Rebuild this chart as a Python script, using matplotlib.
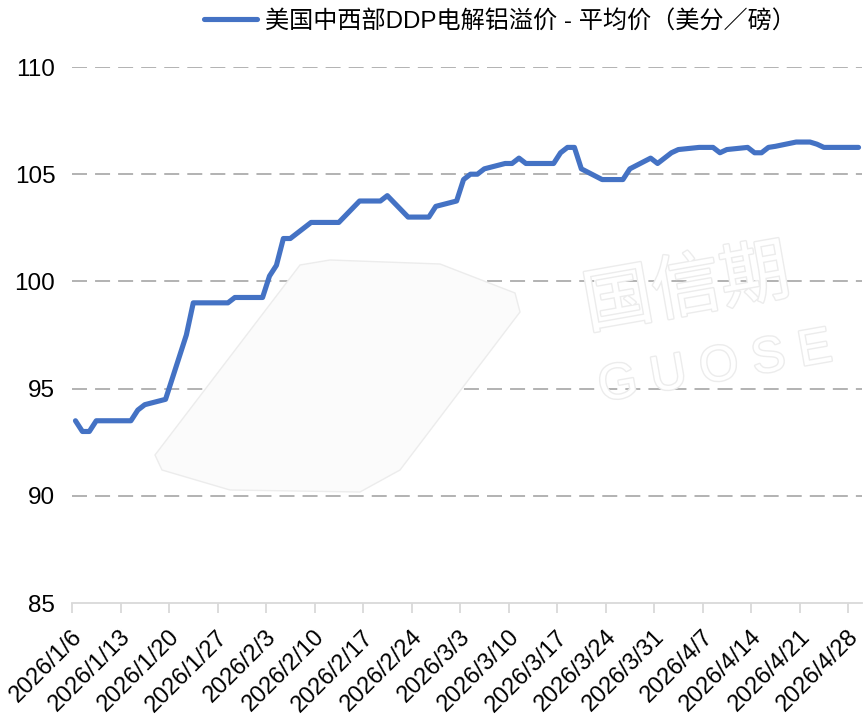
import numpy as np
import pandas as pd
import matplotlib
matplotlib.use("Agg")
import matplotlib.pyplot as plt
from matplotlib.transforms import ScaledTranslation
from matplotlib.patches import Polygon
from matplotlib import patheffects

plt.rcParams['font.family'] = ['Liberation Sans', 'Noto Sans CJK SC']
plt.rcParams['lines.scale_dashes'] = False

# daily price series (US cents / lb)
dates = [
    "2026-01-06", "2026-01-07", "2026-01-08", "2026-01-09", "2026-01-12", "2026-01-13",
    "2026-01-14", "2026-01-15", "2026-01-16", "2026-01-19", "2026-01-20", "2026-01-21",
    "2026-01-22", "2026-01-23", "2026-01-26", "2026-01-27", "2026-01-28", "2026-01-29",
    "2026-01-30", "2026-02-02", "2026-02-03", "2026-02-04", "2026-02-05", "2026-02-06",
    "2026-02-09", "2026-02-10", "2026-02-11", "2026-02-12", "2026-02-13", "2026-02-16",
    "2026-02-17", "2026-02-18", "2026-02-19", "2026-02-20", "2026-02-23", "2026-02-24",
    "2026-02-25", "2026-02-26", "2026-02-27", "2026-03-02", "2026-03-03", "2026-03-04",
    "2026-03-05", "2026-03-06", "2026-03-09", "2026-03-10", "2026-03-11", "2026-03-12",
    "2026-03-13", "2026-03-16", "2026-03-17", "2026-03-18", "2026-03-19", "2026-03-20",
    "2026-03-23", "2026-03-24", "2026-03-25", "2026-03-26", "2026-03-27", "2026-03-30",
    "2026-03-31", "2026-04-01", "2026-04-02", "2026-04-03", "2026-04-06", "2026-04-07",
    "2026-04-08", "2026-04-09", "2026-04-10", "2026-04-13", "2026-04-14", "2026-04-15",
    "2026-04-16", "2026-04-17", "2026-04-20", "2026-04-21", "2026-04-22", "2026-04-23",
    "2026-04-24", "2026-04-27", "2026-04-28", "2026-04-29",
]
values = [
    93.5, 93.0, 93.0, 93.5, 93.5, 93.5,
    93.5, 94.0, 94.25, 94.5, 95.5, 96.5,
    97.5, 99.0, 99.0, 99.0, 99.0, 99.25,
    99.25, 99.25, 100.25, 100.75, 102.0, 102.0,
    102.75, 102.75, 102.75, 102.75, 102.75, 103.75,
    103.75, 103.75, 103.75, 104.0, 103.0, 103.0,
    103.0, 103.0, 103.5, 103.75, 104.75, 105.0,
    105.0, 105.25, 105.5, 105.5, 105.75, 105.5,
    105.5, 105.5, 106.0, 106.25, 106.25, 105.25,
    104.75, 104.75, 104.75, 104.75, 105.25, 105.75,
    105.5, 105.75, 106.0, 106.15, 106.25, 106.25,
    106.25, 106.0, 106.15, 106.25, 106.0, 106.0,
    106.25, 106.3, 106.5, 106.5, 106.5, 106.4,
    106.25, 106.25, 106.25, 106.25,
]
series_name = "美国中西部DDP电解铝溢价 - 平均价（美分／磅）"
y_ticks = [85, 90, 95, 100, 105, 110]
tick_dates = pd.date_range("2026-01-06", "2026-04-28", freq="7D")
tick_labels = [f"{d.year}/{d.month}/{d.day}" for d in tick_dates]

x = pd.to_datetime(dates) + pd.Timedelta(hours=12)

fig = plt.figure(figsize=(8.63, 7.15), dpi=100)
ax = fig.add_axes([72 / 863, 1 - 603 / 715, 790 / 863, 536 / 715])

# faint watermark
wm = Polygon([(155 / 863, 1 - 455 / 715), (300 / 863, 1 - 265 / 715), (330 / 863, 1 - 260 / 715),
              (440 / 863, 1 - 264 / 715), (515 / 863, 1 - 293 / 715), (520 / 863, 1 - 312 / 715),
              (400 / 863, 1 - 470 / 715), (360 / 863, 1 - 492 / 715), (230 / 863, 1 - 490 / 715),
              (162 / 863, 1 - 470 / 715)],
             closed=True, transform=fig.transFigure, facecolor='#fbfbfb',
             edgecolor='#ececec', lw=1, zorder=0)
fig.patches.append(wm)
stroke = [patheffects.withStroke(linewidth=2, foreground='#ececec')]
fig.text(578 / 863, 1 - 290 / 715, "国信期", fontsize=50, rotation=10, color='white',
         family='Noto Sans CJK SC', ha='left', va='center', path_effects=stroke, zorder=0)
fig.text(595 / 863, 1 - 368 / 715, "G U O S E", fontsize=36, rotation=10, color='white',
         ha='left', va='center', path_effects=stroke, zorder=0)

ax.patch.set_alpha(0)
fig.patch.set_facecolor('white')

for yv in y_ticks[1:]:
    ax.axhline(yv, color='#a6a6a6', lw=1.2, linestyle=(0, (10.8, 5.8)), zorder=1)

line, = ax.plot(x, values, color='#4472C4', lw=3.7, solid_joinstyle='round',
                solid_capstyle='round', zorder=3, label=series_name)

ax.set_ylim(85, 110)
ax.set_yticks(y_ticks)
ax.set_xlim(pd.Timestamp("2026-01-06"), pd.Timestamp("2026-04-30"))
ax.set_xticks(tick_dates)
ax.set_xticklabels(tick_labels, rotation=45, ha='right', va='center', rotation_mode='anchor')

for s in ['top', 'right', 'left']:
    ax.spines[s].set_visible(False)
ax.spines['bottom'].set_color('#d9d9d9')
ax.spines['bottom'].set_linewidth(1.3)

ax.tick_params(axis='y', length=0, pad=12, labelsize=17.5, labelcolor='black')
ax.tick_params(axis='x', length=7.2, width=1.3, color='#d9d9d9', pad=15,
               labelsize=17, labelcolor='black')
for lbl in ax.get_xticklabels():
    lbl.set_transform(lbl.get_transform() + ScaledTranslation(0.07, 0, fig.dpi_scale_trans))

fig.legend(handles=[line], loc='center', bbox_to_anchor=(500 / 863, 1 - 21 / 715),
           frameon=False, handlelength=2.2, handletextpad=0.35, fontsize=17.4)

fig.savefig("out.png", dpi=100)
